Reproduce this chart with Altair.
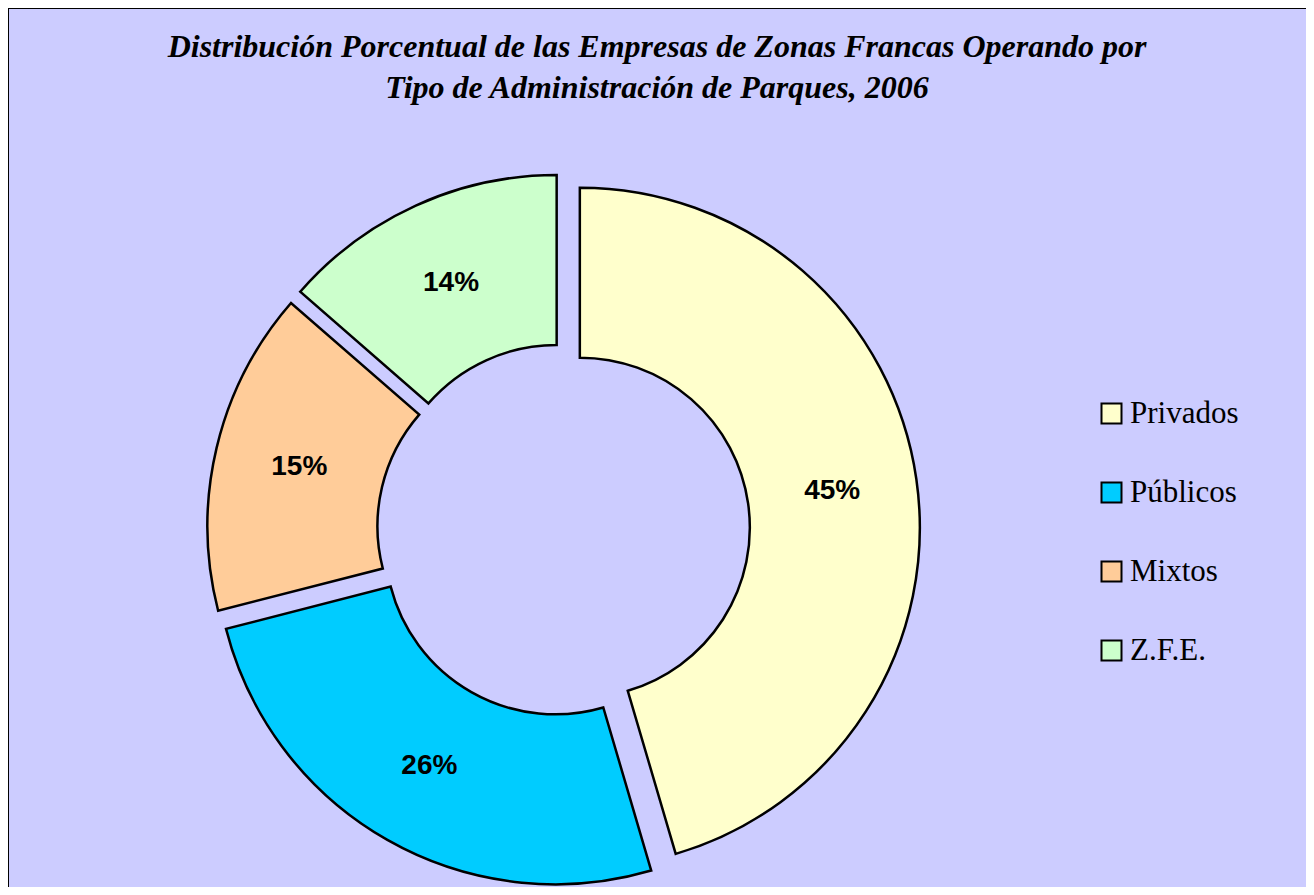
import altair as alt
import pandas as pd

categories = ["Privados", "Públicos", "Mixtos", "Z.F.E."]
values = [45.45, 25.55, 15.4, 13.6]
colors = ["#FFFFCC", "#00CCFF", "#FFCC99", "#CCFFCC"]
order = [0, 1, 2, 3]

title_lines = [
    "Distribución Porcentual de las Empresas de Zonas Francas Operando por",
    "Tipo de Administración de Parques, 2006",
]

W, H = 1298, 879
CX, CY = 555.5, 522.0
R_OUT, R_IN = 340, 170
EXPLODE = 16.5
LABEL_R = 255

df = pd.DataFrame({"cat": categories, "value": values, "order": order})

base = alt.Chart(df).transform_joinaggregate(
    total="sum(value)"
).transform_window(
    cum="sum(value)", sort=[alt.SortField("order")], frame=[None, 0]
).transform_calculate(
    start="2*PI*(datum.cum - datum.value)/datum.total",
    end="2*PI*datum.cum/datum.total",
).transform_calculate(
    mid="(datum.start + datum.end)/2"
).transform_calculate(
    cx=f"{CX} + {EXPLODE}*sin(datum.mid)",
    cy=f"{CY} - {EXPLODE}*cos(datum.mid)",
    lx=f"{CX} + {EXPLODE + LABEL_R}*sin(datum.mid)",
    ly=f"{CY} - {EXPLODE + LABEL_R}*cos(datum.mid)",
    label="round(100*datum.value/datum.total) + '%'",
)

arcs = base.mark_arc(
    outerRadius=R_OUT, innerRadius=R_IN, stroke="black", strokeWidth=2.5
).encode(
    x=alt.X("cx:Q", scale=None, axis=None),
    y=alt.Y("cy:Q", scale=None, axis=None),
    theta=alt.Theta("start:Q", scale=None, stack=None),
    theta2="end:Q",
    color=alt.Color(
        "cat:N",
        scale=alt.Scale(domain=categories, range=colors),
        sort=categories,
        legend=alt.Legend(
            title=None,
            orient="none",
            legendX=1088,
            legendY=390,
            padding=0,
            symbolType="square",
            symbolSize=400,
            symbolStrokeColor="black",
            symbolStrokeWidth=2,
            symbolOpacity=1,
            labelFont="Liberation Serif",
            labelFontSize=31,
            labelColor="black",
            labelOffset=3,
            rowPadding=47,
            labelLimit=300,
        ),
    ),
)

labels = base.mark_text(
    font="Liberation Sans", fontWeight="bold", fontSize=28, color="black",
    align="center", baseline="middle",
).encode(
    x=alt.X("lx:Q", scale=None, axis=None),
    y=alt.Y("ly:Q", scale=None, axis=None),
    text="label:N",
)

# frame lines (left and top edges of the chart area)
frame_df = pd.DataFrame({"k": [0]})
left_edge = alt.Chart(frame_df).mark_rule(color="black", strokeWidth=2).encode(
    x=alt.value(0), y=alt.value(0), y2=alt.value(H)
)
top_edge = alt.Chart(frame_df).mark_rule(color="black", strokeWidth=2).encode(
    y=alt.value(0), x=alt.value(0), x2=alt.value(W)
)

chart = alt.layer(arcs, labels, left_edge, top_edge).properties(
    width=W,
    height=H,
    padding=0,
    background="white",
    autosize=alt.AutoSizeParams(type="none"),
    title=alt.TitleParams(
        text=title_lines,
        font="Liberation Serif",
        fontSize=32,
        fontStyle="italic",
        fontWeight="bold",
        color="black",
        anchor="middle",
        lineHeight=41,
        offset=-98,
    ),
).configure_view(
    stroke=None, fill="#CCCCFF"
)

chart.save("out.html", embed_options={"renderer": "svg", "actions": False})
